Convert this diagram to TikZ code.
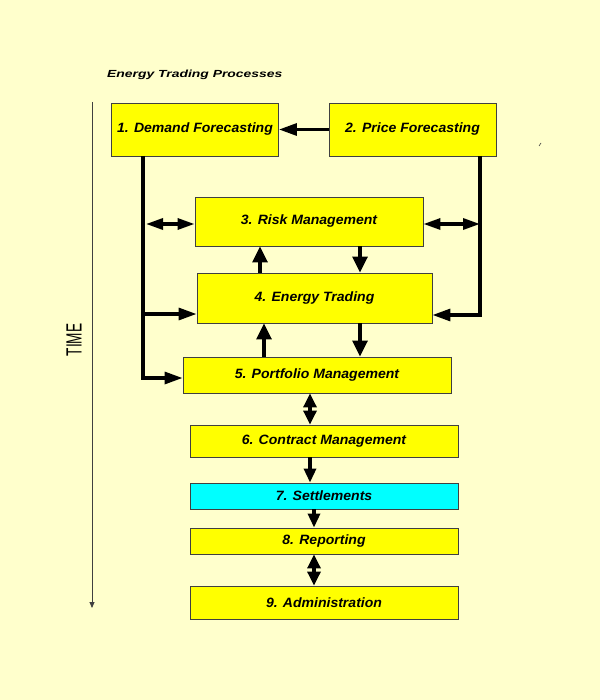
\documentclass[tikz,border=0pt]{standalone}
\usepackage{fontspec}
\usepackage{graphicx}
\setmainfont{Liberation Sans}
\newfontfamily\boxfont[FakeStretch=1.04]{Liberation Sans}
\newfontfamily\titlefont[FakeStretch=1.35]{Liberation Sans}
\usetikzlibrary{arrows.meta}
\definecolor{bg}{HTML}{FFFFCC}
\definecolor{boxy}{HTML}{FFFF00}
\definecolor{boxc}{HTML}{00FFFF}
\definecolor{edge}{HTML}{404040}
\begin{document}
\begin{tikzpicture}[x=1pt,y=-1pt,
  proc/.style={draw=edge,line width=0.9pt,fill=boxy,font=\boxfont\fontsize{13.5}{15}\selectfont\bfseries\itshape},
  hflow/.style={line width=3.2pt,-{Triangle[length=18pt,width=12pt]}},
  hbflow/.style={line width=3.2pt,{Triangle[length=17pt,width=11pt]}-{Triangle[length=17pt,width=11pt]}},
  vflow/.style={line width=3.2pt,-{Triangle[length=16pt,width=15pt]}},
  vbflow/.style={line width=3.2pt,{Triangle[length=14pt,width=13pt]}-{Triangle[length=14pt,width=13pt]}},
  sflow/.style={line width=3.2pt,-{Triangle[length=14pt,width=12pt]}},
  link/.style={line width=3.2pt}]
\fill[bg] (0,0) rectangle (600,700);
\useasboundingbox (0,0) rectangle (600,700);
\node[anchor=west,inner sep=0pt,font=\titlefont\fontsize{10.3}{12}\selectfont\bfseries\itshape] (title) at (107,75) {Energy Trading Processes};
% boxes
\node[proc,minimum width=167pt,minimum height=53pt] (b1) at (195,129.5) {1. Demand Forecasting};
\node[proc,minimum width=167pt,minimum height=53pt] (b2) at (412.5,129.5) {2. Price Forecasting};
\node[proc,minimum width=228pt,minimum height=49pt] (b3) at (309,221.5) {3. Risk Management};
\node[proc,minimum width=235pt,minimum height=50pt] (b4) at (314.5,298) {4. Energy Trading};
\node[proc,minimum width=268pt,minimum height=36pt] (b5) at (317,375) {5. Portfolio Management};
\node[proc,minimum width=268pt,minimum height=32pt] (b6) at (324,441) {6. Contract Management};
\node[proc,fill=boxc,minimum width=268pt,minimum height=26pt] (b7) at (324,496) {7. Settlements};
\node[proc,minimum width=268pt,minimum height=26pt] (b8) at (324,541) {8. Reporting};
\node[proc,minimum width=268pt,minimum height=33pt] (b9) at (324,602.5) {9. Administration};
% time axis
\coordinate (t0) at (92,102);
\coordinate (t1) at (92,608);
\draw[line width=0.9pt,draw=edge,-{Triangle[length=6pt,width=5pt]}] (t0) -- (t1);
\node[rotate=90,font=\fontsize{22}{24}\selectfont] (time) at (74,340) {\scalebox{0.62}[1]{TIME}};
% connectors
\draw[hflow] (b2.west) -- (b1.east);
\coordinate (l0) at (143,156);
\coordinate (l1) at (143,314);
\coordinate (l2) at (143,378);
\draw[link] (l0) -- (l1);
\draw[hflow] (l1) -- (l2) -- (b5.west |- l2);
\draw[hflow] (l1) -- (b4.west |- l1);
\coordinate (la) at (146,224);
\draw[hbflow] (la) -- (b3.west |- la);
\coordinate (r0) at (480,156);
\coordinate (r1) at (480,315);
\coordinate (ra) at (480,224);
\draw[hflow] (r0) -- (r1) -- (b4.east |- r1);
\draw[hbflow] (b3.east |- ra) -- (ra);
\coordinate (u34) at (260,0);
\coordinate (d34) at (360,0);
\draw[vflow] (b4.north -| u34) -- (b3.south -| u34);
\draw[vflow] (b3.south -| d34) -- (b4.north -| d34);
\coordinate (u45) at (264,0);
\draw[vflow] (b5.north -| u45) -- (b4.south -| u45);
\draw[vflow] (b4.south -| d34) -- (b5.north -| d34);
\coordinate (c56) at (310,0);
\draw[vbflow] (b5.south -| c56) -- (b6.north -| c56);
\draw[sflow] (b6.south -| c56) -- (b7.north -| c56);
\coordinate (c78) at (314,0);
\draw[sflow] (b7.south -| c78) -- (b8.north -| c78);
\draw[vbflow] (b8.south -| c78) -- (b9.north -| c78);
% stray mark
\coordinate (m0) at (539,146);
\coordinate (m1) at (541,143);
\draw[line width=0.6pt,draw=edge] (m0) -- (m1);
\end{tikzpicture}
\end{document}
